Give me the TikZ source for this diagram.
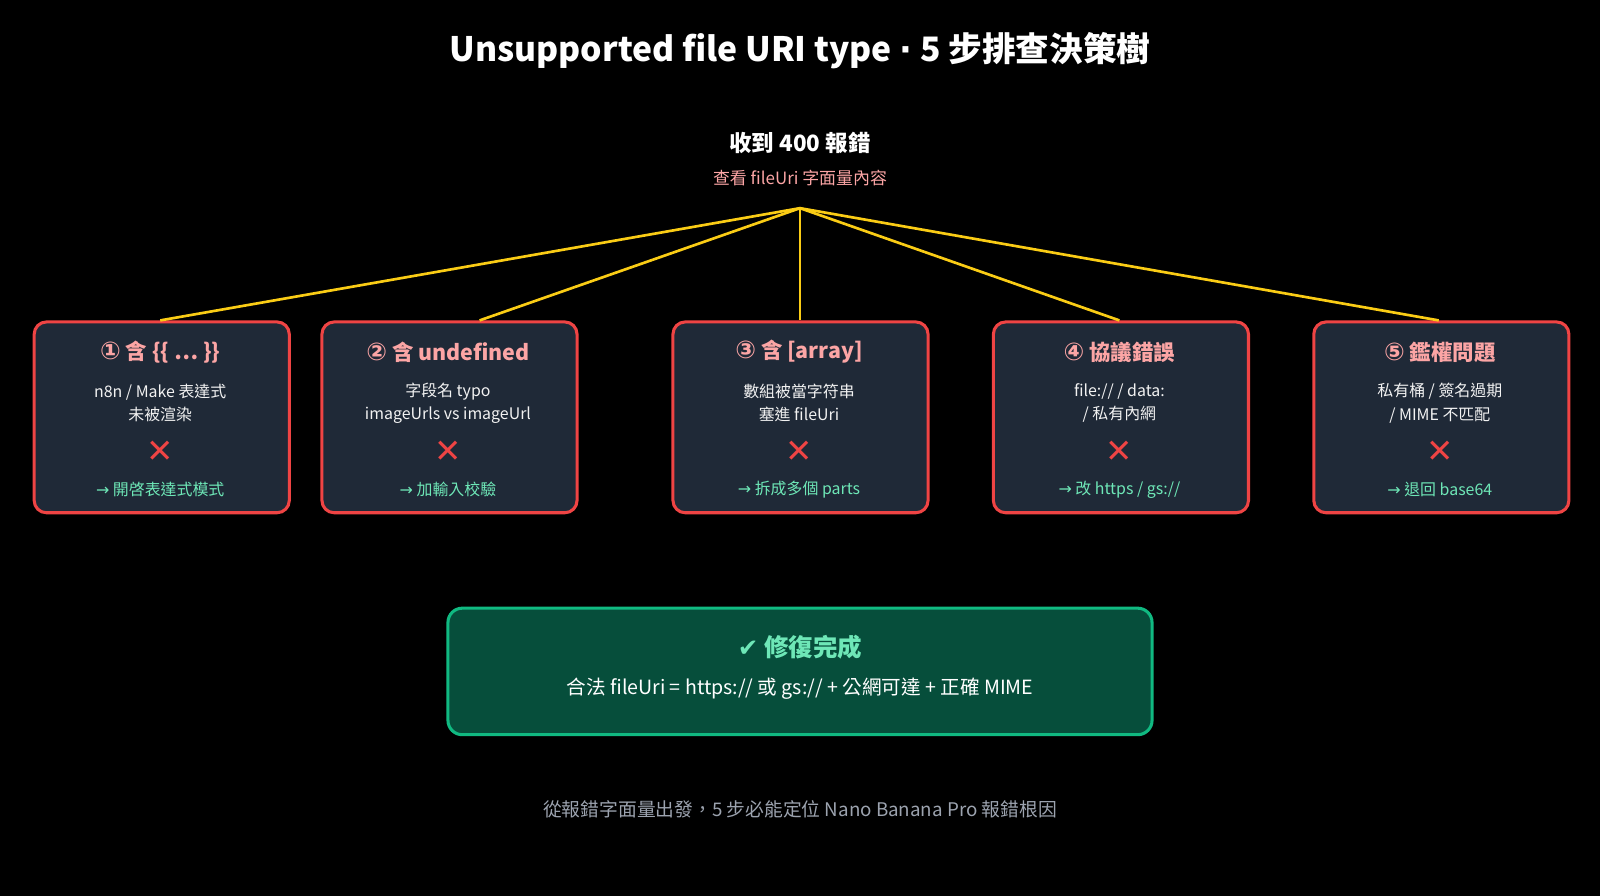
\documentclass[tikz,border=0pt]{standalone}
\usepackage{fontspec}
\setmainfont{Noto Sans CJK TC}
\newfontfamily\djv{DejaVu Sans}
\definecolor{bg}{HTML}{000000}
\definecolor{boxf}{HTML}{1F2937}
\definecolor{boxr}{HTML}{EF4444}
\definecolor{sal}{HTML}{FCA5A5}
\definecolor{grn}{HTML}{6EE7B7}
\definecolor{gold}{HTML}{FACC15}
\definecolor{gf}{HTML}{064E3B}
\definecolor{gb}{HTML}{10B981}
\definecolor{gry}{HTML}{9CA3AF}
\newcommand{\cnum}[1]{{\djv\fontsize{12}{12}\selectfont #1}}
\begin{document}
\begin{tikzpicture}[x=0.5pt,y=-0.5pt,
  card/.style={draw=boxr,fill=boxf,line width=1.5pt,rounded corners=6pt,minimum width=125pt,minimum height=93.5pt,anchor=north west},
  ctitle/.style={text=sal,font=\fontsize{10.5}{12}\selectfont\bfseries},
  cbody/.style={text=white!90!gray,font=\fontsize{7.8}{11.5}\selectfont,align=center},
  cx/.style={text=boxr,font=\fontsize{16}{16}\selectfont},
  cfix/.style={text=grn,font=\fontsize{7.8}{10}\selectfont},
  link/.style={draw=gold,line width=1.3pt}]
\fill[bg] (0,0) rectangle (1568,878);
\node[text=white,font=\fontsize{16.5}{20}\selectfont\bfseries] (title) at (784,50) {Unsupported file URI type {\djv ·} 5 步排查決策樹};
\node[text=white,font=\fontsize{11}{13}\selectfont\bfseries] (root) at (784,140) {收到 400 報錯};
\node[text=sal,font=\fontsize{8.3}{10}\selectfont] (rootsub) at (784,174) {查看 fileUri 字面量內容};
\coordinate (hub) at (784,204);
\foreach \i/\x/\t/\a/\b/\f/\e in {
 1/32/{\cnum{①} 含 \{\{ … \}\}}/{n8n / Make 表達式}/{未被渲染}/{開啓表達式模式}/157,
 2/314/{\cnum{②} 含 undefined}/{字段名 typo}/{imageUrls vs imageUrl}/{加輸入校驗}/470,
 3/658/{\cnum{③} 含 [array]}/{數組被當字符串}/{塞進 fileUri}/{拆成多個 parts}/784,
 4/972/{\cnum{④} 協議錯誤}/{file:// / data:}/{/ 私有內網}/{改 https / gs://}/1097,
 5/1286/{\cnum{⑤} 鑑權問題}/{私有桶 / 簽名過期}/{/ MIME 不匹配}/{退回 base64}/1410}{
  \node[card] (c\i) at (\x,314) {};
  \node[ctitle] (t\i) at (\x+125,345) {\t};
  \node[cbody] (b\i) at (\x+125,395) {\a\\\b};
  \node[cx] (x\i) at (\x+125,443) {\djv ✕};
  \node[cfix] (f\i) at (\x+125,480) {{\djv →} \f};
  \coordinate (e\i) at (\e,314);
  \draw[link] (hub) -- (e\i);
}
\node[draw=gb,fill=gf,line width=1.5pt,rounded corners=7pt,minimum width=345pt,minimum height=62pt] (done) at (784,658) {};
\node[text=grn,font=\fontsize{12}{14}\selectfont\bfseries] (donet) at (784,634) {{\djv ✔} 修復完成};
\node[text=white,font=\fontsize{9.6}{11}\selectfont] (doneb) at (784,675) {合法 fileUri = https:// 或 gs:// + 公網可達 + 正確 MIME};
\node[text=gry,font=\fontsize{9.2}{11}\selectfont] (foot) at (784,793) {從報錯字面量出發，5 步必能定位 Nano Banana Pro 報錯根因};
\end{tikzpicture}
\end{document}
